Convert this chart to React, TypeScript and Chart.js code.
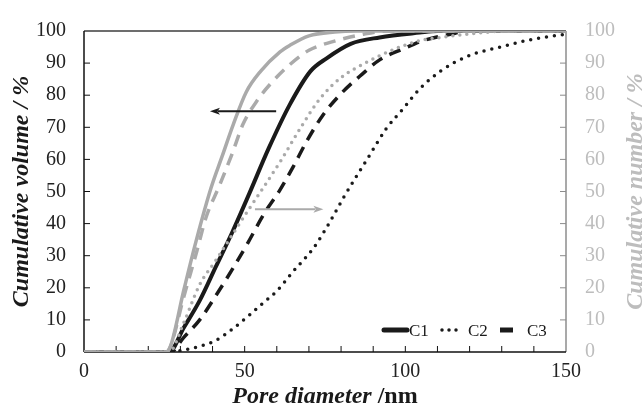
import React, { useEffect, useRef } from "react";
import { Chart, registerables } from "chart.js";
Chart.register(...registerables);

// Cumulative volume (%) vs pore diameter (nm) — black, left axis
const volC1X = [0, 26.5, 31, 36, 41, 46, 51.5, 57.5, 64, 70.5, 75.5, 83, 92, 104.5, 110, 150];
const volC1Y = [0, 0, 7.5, 16, 26.5, 37, 49.5, 63.5, 77, 87.5, 91.5, 96, 98, 99.5, 100, 100];
const volC2X = [0, 27, 31, 36, 41, 46, 51.5, 56, 60, 65, 71.5, 76.5, 81, 89, 94, 99.5, 104.5, 111, 119, 129.5, 140, 150];
const volC2Y = [0, 0, 0.6, 1.8, 3.6, 7, 11.5, 15.5, 19, 25, 32.5, 40.5, 48.5, 61.5, 69.5, 76, 82, 87.5, 92, 95, 97.5, 99];
const volC3X = [0, 27, 31, 36, 41, 46, 51, 56, 61, 65, 69.5, 74.5, 80, 86.5, 92, 99.5, 105.5, 114, 120, 150];
const volC3Y = [0, 0, 4.5, 10, 17.5, 25.5, 34, 43, 50.5, 57.5, 66, 74, 80.5, 86.5, 91, 94.5, 97, 99, 100, 100];

// Cumulative number (%) vs pore diameter (nm) — gray, right axis
const numC1X = [0, 25.5, 27, 31, 35, 39.5, 43, 46.5, 50.5, 55, 61, 64, 70, 78, 85, 150];
const numC1Y = [0, 0, 2, 19, 35, 51, 61, 71, 81, 87.5, 93.5, 95.5, 98.5, 99.7, 100, 100];
const numC2X = [0, 26.5, 31, 36, 41, 45.5, 51, 56, 61.5, 67.5, 73.5, 80, 87.5, 97, 104.5, 111, 124, 132, 150];
const numC2Y = [0, 0, 9, 21, 28.5, 35.5, 44, 51.5, 60, 70, 79, 85.5, 90, 94.5, 97, 98, 99.5, 100, 100];
const numC3X = [0, 25.5, 27, 31, 35, 38, 42, 46, 49.5, 54, 58, 64, 70, 78.5, 87, 95, 150];
const numC3Y = [0, 0, 2, 17, 31, 42, 51.5, 61.5, 71, 78.5, 83.5, 89.5, 94, 97, 99, 100, 100];

const seriesLabels = ["C1", "C2", "C3"];
const xTitleItalic = "Pore diameter ";
const xTitleUnit = "/nm";
const yLeftTitle = "Cumulative volume / %";
const yRightTitle = "Cumulative number / %";

// arrows in data units: [xFrom, xTo, y]
const volumeArrow = [59.8, 39.2, 75];
const numberArrow = [53.2, 74.5, 44.5];

const X_MIN = 0, X_MAX = 150, X_STEP = 50, X_MINOR = 10;
const Y_MIN = 0, Y_MAX = 100, Y_STEP = 10;

const BLACK = "#1a1a1a";
const GRAY = "#aaaaaa";
const GRAY_TEXT = "#bdbdbd";
const SERIF = "'Liberation Serif', 'Times New Roman', serif";

const pts = (xs: number[], ys: number[]) => xs.map((x, i) => ({ x, y: ys[i] }));

const styleSolid = (c: string, w: number) => ({ borderColor: c, borderWidth: w, borderDash: [] as number[], borderCapStyle: "butt" as const });
const styleDot = (c: string, w: number, gap: number) => ({ borderColor: c, borderWidth: w, borderDash: [0, gap], borderCapStyle: "round" as const });
const styleDash = (c: string, w: number) => ({ borderColor: c, borderWidth: w, borderDash: [12, 8], borderCapStyle: "butt" as const });

const decor = {
  id: "decor",
  beforeDatasetsDraw(chart: any) {
    const { ctx, chartArea: a, scales } = chart;
    const xs = scales.x;
    const ys = scales.y;
    ctx.save();
    const line = (x1: number, y1: number, x2: number, y2: number, c: string, w: number) => {
      ctx.beginPath();
      ctx.strokeStyle = c;
      ctx.lineWidth = w;
      ctx.moveTo(x1, y1);
      ctx.lineTo(x2, y2);
      ctx.stroke();
    };
    // frame
    line(a.left, a.top, a.right, a.top, "#3c3c3c", 1.5);
    line(a.right, a.top, a.right, a.bottom, "#8c8c8c", 1.5);
    line(a.left, a.top, a.left, a.bottom, "#111", 1.5);
    line(a.left, a.bottom, a.right, a.bottom, "#111", 1.5);
    // ticks (inside)
    for (let v = X_MIN + X_MINOR; v < X_MAX; v += X_MINOR) {
      const px = xs.getPixelForValue(v);
      line(px, a.bottom, px, a.bottom - 6, "#111", 1);
    }
    for (let v = Y_MIN + Y_STEP; v < Y_MAX; v += Y_STEP) {
      const py = ys.getPixelForValue(v);
      line(a.left, py, a.left + 6, py, "#111", 1);
      line(a.right, py, a.right - 6, py, "#8c8c8c", 1);
    }
    ctx.restore();
  },
  afterDraw(chart: any) {
    const { ctx, chartArea: a, scales } = chart;
    const xs = scales.x;
    const ys = scales.y;
    ctx.save();
    const arrow = (spec: number[], c: string) => {
      const x1 = xs.getPixelForValue(spec[0]);
      const x2 = xs.getPixelForValue(spec[1]);
      const y = ys.getPixelForValue(spec[2]);
      const dir = Math.sign(x2 - x1);
      const head = 10;
      ctx.beginPath();
      ctx.strokeStyle = c;
      ctx.lineWidth = 2;
      ctx.moveTo(x1, y);
      ctx.lineTo(x2 - dir * head * 0.8, y);
      ctx.stroke();
      ctx.beginPath();
      ctx.fillStyle = c;
      ctx.moveTo(x2, y);
      ctx.lineTo(x2 - dir * head, y - 3.5);
      ctx.lineTo(x2 - dir * head * 0.75, y);
      ctx.lineTo(x2 - dir * head, y + 3.5);
      ctx.closePath();
      ctx.fill();
    };
    arrow(volumeArrow, BLACK);
    arrow(numberArrow, GRAY);

    // legend (inside plot, bottom right)
    const ly = a.bottom - 22;
    ctx.font = `17px ${SERIF}`;
    ctx.fillStyle = BLACK;
    ctx.textBaseline = "alphabetic";
    ctx.textAlign = "left";
    // C1
    ctx.beginPath();
    ctx.strokeStyle = BLACK;
    ctx.lineWidth = 5;
    ctx.lineCap = "round";
    ctx.setLineDash([]);
    ctx.moveTo(a.right - 182, ly);
    ctx.lineTo(a.right - 159, ly);
    ctx.stroke();
    ctx.fillText(seriesLabels[0], a.right - 157, ly + 6);
    // C2
    ctx.beginPath();
    ctx.lineWidth = 3.5;
    ctx.setLineDash([0, 7]);
    ctx.moveTo(a.right - 124, ly);
    ctx.lineTo(a.right - 109, ly);
    ctx.stroke();
    ctx.fillText(seriesLabels[1], a.right - 98, ly + 6);
    // C3
    ctx.beginPath();
    ctx.lineWidth = 5;
    ctx.setLineDash([]);
    ctx.lineCap = "butt";
    ctx.moveTo(a.right - 66, ly);
    ctx.lineTo(a.right - 53, ly);
    ctx.stroke();
    ctx.fillText(seriesLabels[2], a.right - 39, ly + 6);

    // axis titles
    const titleSize = 24;
    const fBI = `italic bold ${titleSize}px ${SERIF}`;
    const fB = `bold ${titleSize}px ${SERIF}`;
    ctx.font = fBI;
    const w1 = ctx.measureText(xTitleItalic).width;
    ctx.font = fB;
    const w2 = ctx.measureText(xTitleUnit).width;
    const cx = (a.left + a.right) / 2;
    const x0 = cx - (w1 + w2) / 2;
    ctx.fillStyle = BLACK;
    ctx.font = fBI;
    ctx.fillText(xTitleItalic, x0, 403);
    ctx.font = fB;
    ctx.fillText(xTitleUnit, x0 + w1, 403);

    ctx.font = fBI;
    ctx.textAlign = "center";
    ctx.save();
    ctx.translate(28, (a.top + a.bottom) / 2);
    ctx.rotate(-Math.PI / 2);
    ctx.fillStyle = BLACK;
    ctx.fillText(yLeftTitle, 0, 0);
    ctx.restore();
    ctx.save();
    ctx.translate(642, (a.top + a.bottom) / 2);
    ctx.rotate(-Math.PI / 2);
    ctx.fillStyle = GRAY_TEXT;
    ctx.fillText(yRightTitle, 0, 0);
    ctx.restore();
    ctx.restore();
  },
};

export default function App() {
  const ref = useRef<HTMLCanvasElement>(null);
  useEffect(() => {
    const canvas = ref.current;
    if (!canvas) return;
    const tickFont = { family: SERIF, size: 20 };
    const chart = new Chart(canvas, {
      type: "line",
      data: {
        datasets: [
          { label: "N-C1", data: pts(numC1X, numC1Y), yAxisID: "y2", ...styleSolid(GRAY, 3.5) },
          { label: "N-C2", data: pts(numC2X, numC2Y), yAxisID: "y2", ...styleDot(GRAY, 3.5, 7) },
          { label: "N-C3", data: pts(numC3X, numC3Y), yAxisID: "y2", ...styleDash(GRAY, 3.5) },
          { label: seriesLabels[0], data: pts(volC1X, volC1Y), yAxisID: "y", ...styleSolid(BLACK, 4) },
          { label: seriesLabels[1], data: pts(volC2X, volC2Y), yAxisID: "y", ...styleDot(BLACK, 3.5, 8) },
          { label: seriesLabels[2], data: pts(volC3X, volC3Y), yAxisID: "y", ...styleDash(BLACK, 3.5) },
        ].map((d) => ({ ...d, pointRadius: 0, fill: false, cubicInterpolationMode: "monotone" as const })),
      },
      options: {
        animation: false,
        responsive: true,
        maintainAspectRatio: false,
        layout: { padding: { top: 20, left: 0, right: 0, bottom: 0 } },
        plugins: { legend: { display: false }, tooltip: { enabled: false } },
        scales: {
          x: {
            type: "linear",
            min: X_MIN,
            max: X_MAX,
            ticks: { stepSize: X_STEP, font: tickFont, color: "#222", padding: 8, maxRotation: 0 },
            grid: { display: false, drawTicks: false },
            border: { display: false },
            afterFit: (s: any) => { s.height = 62; },
          },
          y: {
            position: "left",
            min: Y_MIN,
            max: Y_MAX,
            ticks: { stepSize: Y_STEP, font: tickFont, color: "#222", padding: 18 },
            grid: { display: false, drawTicks: false },
            border: { display: false },
            afterFit: (s: any) => { s.width = 84; },
          },
          y2: {
            position: "right",
            min: Y_MIN,
            max: Y_MAX,
            ticks: { stepSize: Y_STEP, font: tickFont, color: GRAY_TEXT, padding: 19 },
            grid: { display: false, drawTicks: false },
            border: { display: false },
            afterFit: (s: any) => { s.width = 77; },
          },
        },
      },
      plugins: [decor],
    });
    return () => chart.destroy();
  }, []);
  return (
    <div style={{ position: "fixed", left: 0, top: 0, width: 643, height: 414, background: "#fff" }}>
      <canvas ref={ref} />
    </div>
  );
}
